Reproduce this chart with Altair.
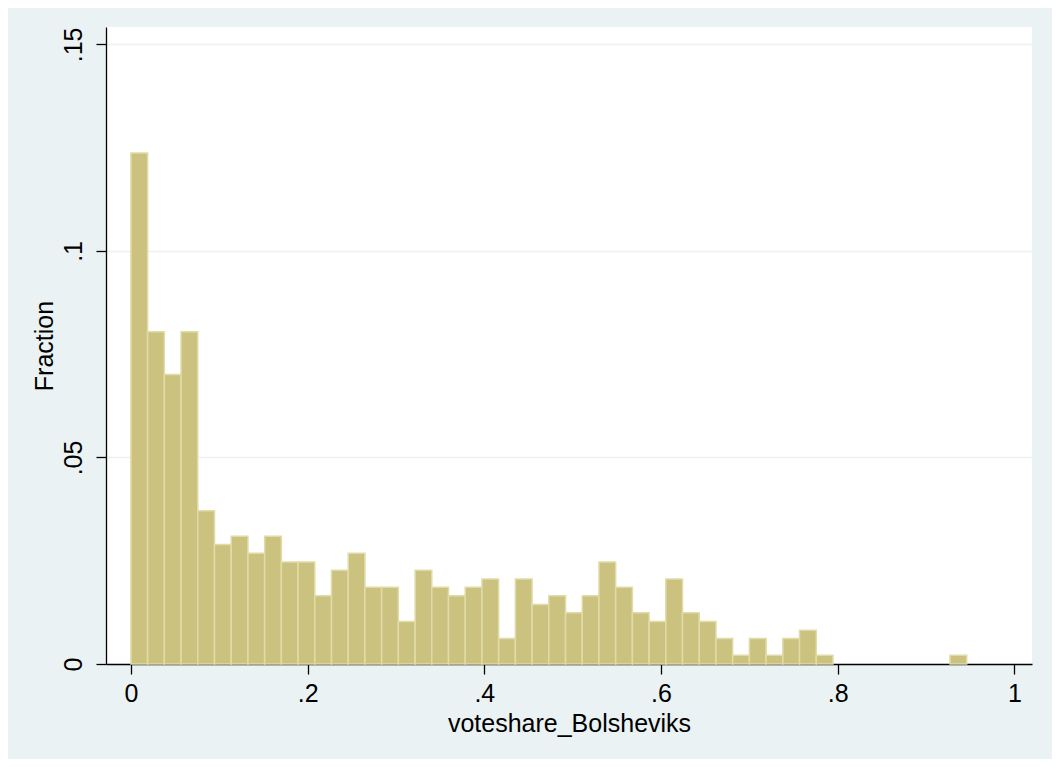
import altair as alt
import pandas as pd

# Histogram of voteshare_Bolsheviks (50 bins, fraction per bin)
BIN_WIDTH = 0.01892
fractions = [
    0.1237, 0.0804, 0.0701, 0.0804, 0.0371, 0.0289, 0.0309, 0.0268, 0.0309, 0.0247,
    0.0247, 0.0165, 0.0227, 0.0268, 0.0186, 0.0186, 0.0103, 0.0227, 0.0186, 0.0165,
    0.0186, 0.0206, 0.0062, 0.0206, 0.0144, 0.0165, 0.0124, 0.0165, 0.0247, 0.0186,
    0.0124, 0.0103, 0.0206, 0.0124, 0.0103, 0.0062, 0.0021, 0.0062, 0.0021, 0.0062,
    0.0082, 0.0021, 0.0, 0.0, 0.0, 0.0, 0.0, 0.0, 0.0, 0.0021,
]
x_ticks = [0, 0.2, 0.4, 0.6, 0.8, 1.0]
y_ticks = [0, 0.05, 0.1, 0.15]

df = pd.DataFrame({
    "bin_start": [i * BIN_WIDTH for i in range(len(fractions))],
    "bin_end": [(i + 1) * BIN_WIDTH for i in range(len(fractions))],
    "fraction": fractions,
})
df = df[df["fraction"] > 0]

FONT = "Liberation Sans"
BG = "#EAF2F3"

bars = alt.Chart(df).mark_rect(
    fill="#CBC27F", stroke="#E1DBA8", strokeWidth=1.5
).encode(
    x=alt.X(
        "bin_start:Q",
        scale=alt.Scale(domain=[-0.0282, 1.0199], nice=False, zero=False),
        axis=alt.Axis(
            values=x_ticks,
            title="voteshare_Bolsheviks",
            grid=False,
            labelExpr="datum.value == 0 ? '0' : (datum.value == 1 ? '1' : substring(format(datum.value, '.1f'), 1))",
            tickSize=10,
            labelPadding=7,
            titlePadding=5,
        ),
    ),
    x2="bin_end:Q",
    y=alt.Y(
        "fraction:Q",
        scale=alt.Scale(domain=[0, 0.1542], nice=False),
        axis=alt.Axis(
            values=y_ticks,
            title="Fraction",
            grid=True,
            gridColor=BG,
            gridWidth=1.5,
            labelAngle=270,
            labelAlign="center",
            labelBaseline="bottom",
            labelExpr="datum.value == 0 ? '0' : substring(format(datum.value, '~g'), 1)",
            tickSize=10,
            labelPadding=10,
            titlePadding=4,
        ),
    ),
    y2=alt.datum(0),
)

chart = bars.properties(
    width=926,
    height=637,
    background=BG,
    padding={"left": 98, "top": 19, "right": 20, "bottom": 95},
    autosize=alt.AutoSizeParams(type="none"),
).configure_view(
    fill="white", stroke=None
).configure_axis(
    labelFont=FONT,
    titleFont=FONT,
    labelFontSize=25,
    titleFontSize=25,
    titleFontWeight="normal",
    labelColor="black",
    titleColor="black",
    domainColor="black",
    tickColor="black",
    domainWidth=1.3,
    tickWidth=1.3,
)

chart.save("out.html", embed_options={"renderer": "svg", "actions": False})
